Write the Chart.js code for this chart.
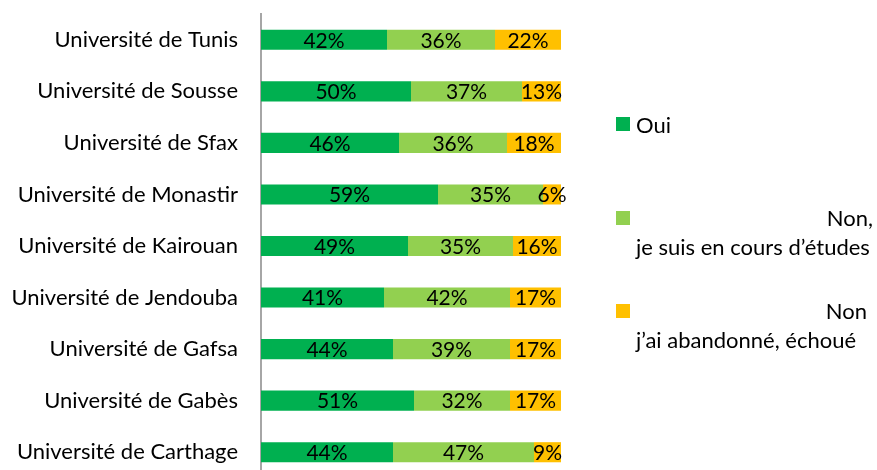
<!DOCTYPE html>
<html>
<head>
<meta charset="utf-8">
<script src="https://cdn.jsdelivr.net/npm/chart.js@4/dist/chart.umd.min.js"></script>
<style>
  html, body { margin: 0; padding: 0; background: #fff; overflow: hidden; }
  #wrap { position: relative; width: 877px; height: 470px; }
  canvas { position: absolute; left: 0; top: 0; }
  .lg { position: absolute; font-family: Lato, sans-serif; font-size: 22px; color: #000; line-height: 29px; white-space: nowrap; }
  .sq { position: absolute; width: 14px; height: 14px; }
</style>
</head>
<body>
<div id="wrap">
  <canvas id="chart" width="877" height="478" style="width:877px;height:478px"></canvas>

  <div class="sq" style="left:616px;top:117px;background:#00B050"></div>
  <div class="lg" style="left:636px;top:110px">Oui</div>

  <div class="sq" style="left:616px;top:211px;background:#92D050"></div>
  <div class="lg" style="left:636px;top:203px;width:237px;text-align:right">Non,</div>
  <div class="lg" style="left:636px;top:232px">je suis en cours d’études</div>

  <div class="sq" style="left:616px;top:304px;background:#FFC000"></div>
  <div class="lg" style="left:636px;top:296px;width:231px;text-align:right">Non</div>
  <div class="lg" style="left:636px;top:325px">j’ai abandonné, échoué</div>
</div>

<script>
const universities = [
  "Université de Tunis",
  "Université de Sousse",
  "Université de Sfax",
  "Université de Monastir",
  "Université de Kairouan",
  "Université de Jendouba",
  "Université de Gafsa",
  "Université de Gabès",
  "Université de Carthage"
];
const oui = [42, 50, 46, 59, 49, 41, 44, 51, 44];
const enCours = [36, 37, 36, 35, 35, 42, 39, 32, 47];
const abandon = [22, 13, 18, 6, 16, 17, 17, 17, 9];

// draws the % value in the middle of each bar segment
const barLabels = {
  id: "barLabels",
  afterDatasetsDraw(chart) {
    const ctx = chart.ctx;
    ctx.save();
    ctx.font = "21px Lato, sans-serif";
    ctx.fillStyle = "#000";
    ctx.textAlign = "center";
    ctx.textBaseline = "middle";
    chart.data.datasets.forEach((ds, i) => {
      chart.getDatasetMeta(i).data.forEach((bar, j) => {
        const p = bar.getCenterPoint();
        ctx.fillText(ds.data[j] + "%", p.x, p.y + 1);
      });
    });
    ctx.restore();
  }
};

new Chart(document.getElementById("chart"), {
  type: "bar",
  data: {
    labels: universities,
    datasets: [
      { label: "Oui", data: oui, backgroundColor: "#00B050" },
      { label: "Non, je suis en cours d’études", data: enCours, backgroundColor: "#92D050" },
      { label: "Non j’ai abandonné, échoué", data: abandon, backgroundColor: "#FFC000" }
    ]
  },
  options: {
    indexAxis: "y",
    responsive: false,
    animation: false,
    layout: { padding: { left: 0, right: 316, top: 14, bottom: 0 } },
    datasets: { bar: { barPercentage: 0.39, categoryPercentage: 1 } },
    plugins: { legend: { display: false }, tooltip: { enabled: false } },
    scales: {
      x: { stacked: true, min: 0, max: 100, display: false },
      y: {
        stacked: true,
        grid: { display: false },
        border: { display: true, color: "#A6A6A6", width: 2 },
        ticks: { color: "#000", font: { family: "Lato", size: 22 }, padding: 15 },
        afterFit(scale) {
          scale.width = 261;
          scale.paddingTop = 0;
          scale.paddingBottom = 0;
        }
      }
    }
  },
  plugins: [barLabels]
});
</script>
</body>
</html>
